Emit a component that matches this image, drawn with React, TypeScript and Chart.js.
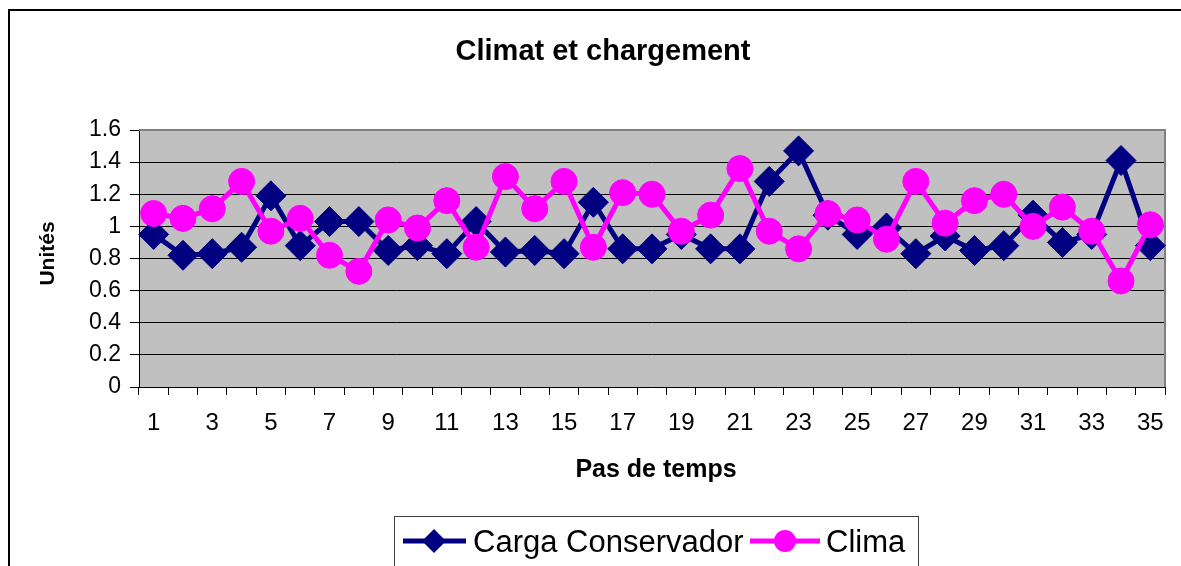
import React, { useEffect, useRef } from "react";
import { Chart, registerables } from "chart.js";

Chart.register(...registerables);

const timeSteps = [
  "1", "2", "3", "4", "5", "6", "7", "8", "9", "10",
  "11", "12", "13", "14", "15", "16", "17", "18", "19", "20",
  "21", "22", "23", "24", "25", "26", "27", "28", "29", "30",
  "31", "32", "33", "34", "35",
];

const cargaConservador = [
  0.95, 0.82, 0.83, 0.87, 1.19, 0.88, 1.03, 1.03, 0.85, 0.88,
  0.83, 1.03, 0.84, 0.85, 0.83, 1.15, 0.86, 0.86, 0.95, 0.86,
  0.86, 1.28, 1.47, 1.07, 0.95, 0.99, 0.83, 0.94, 0.85, 0.88,
  1.07, 0.9, 0.95, 1.41, 0.88,
];

const clima = [
  1.08, 1.05, 1.11, 1.28, 0.97, 1.05, 0.82, 0.72, 1.04, 0.99,
  1.16, 0.87, 1.31, 1.11, 1.28, 0.87, 1.21, 1.2, 0.97, 1.07,
  1.36, 0.97, 0.86, 1.08, 1.04, 0.92, 1.28, 1.02, 1.16, 1.2,
  1.0, 1.12, 0.97, 0.66, 1.01,
];

const seriesNames = ["Carga Conservador", "Clima"];
const chartTitle = "Climat et chargement";
const xTitle = "Pas de temps";
const yTitle = "Unités";

const W = 1173;
const H = 558;
const FONT = "'Liberation Sans', Arial, sans-serif";
const NAVY = "#000080";
const MAGENTA = "#FF00FF";

const decor = {
  id: "decor",
  beforeDraw(chart: any) {
    const { ctx, chartArea: a } = chart;
    ctx.save();
    ctx.fillStyle = "#ffffff";
    ctx.fillRect(0, 0, W, H);
    ctx.fillStyle = "#C0C0C0";
    ctx.fillRect(a.left, a.top, a.right - a.left, a.bottom - a.top);
    ctx.strokeStyle = "#000000";
    ctx.lineWidth = 2;
    ctx.strokeRect(1, 2, W + 40, H + 40);
    ctx.restore();
  },
  beforeDatasetsDraw(chart: any) {
    const { ctx, chartArea: a } = chart;
    ctx.save();
    ctx.strokeStyle = "#808080";
    ctx.lineWidth = 2;
    ctx.beginPath();
    ctx.moveTo(a.left, a.top);
    ctx.lineTo(a.right, a.top);
    ctx.lineTo(a.right, a.bottom);
    ctx.stroke();
    ctx.restore();
  },
  afterDraw(chart: any) {
    const { ctx, chartArea: a } = chart;
    ctx.save();
    ctx.fillStyle = "#000";
    // title
    ctx.font = `bold 29px ${FONT}`;
    ctx.textAlign = "center";
    ctx.textBaseline = "alphabetic";
    ctx.fillText(chartTitle, 595, 52);
    // x title
    ctx.font = `bold 25px ${FONT}`;
    ctx.fillText(xTitle, (a.left + a.right) / 2 + 4, 469);
    // y title
    ctx.save();
    ctx.translate(40, (a.top + a.bottom) / 2 - 5);
    ctx.rotate(-Math.PI / 2);
    ctx.font = `bold 21px ${FONT}`;
    ctx.textBaseline = "middle";
    ctx.fillText(yTitle, 0, 0);
    ctx.restore();

    // legend
    ctx.strokeStyle = "#404040";
    ctx.lineWidth = 1;
    ctx.strokeRect(386.5, 508.5, 524, 120);
    const ly = 533;
    // series 1
    ctx.strokeStyle = NAVY;
    ctx.lineWidth = 5;
    ctx.beginPath();
    ctx.moveTo(395, ly);
    ctx.lineTo(458, ly);
    ctx.stroke();
    ctx.fillStyle = NAVY;
    ctx.beginPath();
    ctx.moveTo(426, ly - 12);
    ctx.lineTo(438, ly);
    ctx.lineTo(426, ly + 12);
    ctx.lineTo(414, ly);
    ctx.closePath();
    ctx.fill();
    // series 2
    ctx.strokeStyle = MAGENTA;
    ctx.beginPath();
    ctx.moveTo(742, ly);
    ctx.lineTo(812, ly);
    ctx.stroke();
    ctx.fillStyle = MAGENTA;
    ctx.beginPath();
    ctx.arc(777, ly, 11, 0, Math.PI * 2);
    ctx.fill();
    ctx.fillStyle = "#000";
    ctx.font = `31px ${FONT}`;
    ctx.textAlign = "left";
    ctx.textBaseline = "alphabetic";
    ctx.fillText(seriesNames[0], 465, 544);
    ctx.fillText(seriesNames[1], 818, 544);
    ctx.restore();
  },
};

export default function App() {
  const ref = useRef<HTMLCanvasElement | null>(null);

  useEffect(() => {
    if (!ref.current) return;
    const chart = new Chart(ref.current, {
      type: "line",
      data: {
        labels: timeSteps,
        datasets: [
          {
            label: seriesNames[0],
            data: cargaConservador,
            borderColor: NAVY,
            backgroundColor: NAVY,
            borderWidth: 5,
            pointStyle: "rectRot",
            pointRadius: 15,
            pointBorderWidth: 1,
            pointBorderColor: NAVY,
            pointBackgroundColor: NAVY,
            tension: 0,
            order: 1,
          },
          {
            label: seriesNames[1],
            data: clima,
            borderColor: MAGENTA,
            backgroundColor: MAGENTA,
            borderWidth: 5,
            pointStyle: "circle",
            pointRadius: 13,
            pointBorderWidth: 1,
            pointBorderColor: MAGENTA,
            pointBackgroundColor: MAGENTA,
            tension: 0,
            order: 0,
          },
        ],
      },
      options: {
        responsive: false,
        animation: false,
        events: [],
        layout: { padding: { left: 0, top: 122, right: 7, bottom: 0 } },
        plugins: {
          legend: { display: false },
          title: { display: false },
          tooltip: { enabled: false },
        },
        scales: {
          x: {
            type: "category",
            offset: true,
            afterFit: (s: any) => {
              s.height = 179;
            },
            grid: {
              offset: true,
              drawOnChartArea: false,
              drawTicks: true,
              tickLength: 8,
              tickColor: "#000",
              tickWidth: 1,
            },
            border: { display: true, color: "#000", width: 1 },
            ticks: {
              autoSkip: false,
              maxRotation: 0,
              minRotation: 0,
              padding: 14,
              color: "#000",
              font: { family: FONT, size: 24 },
              callback: (_v: any, i: number) => (i % 2 === 0 ? timeSteps[i] : ""),
            },
          },
          y: {
            min: 0,
            max: 1.6,
            afterFit: (s: any) => {
              s.width = 131;
            },
            grid: {
              color: (c: any) => (c.tick && Math.abs(c.tick.value - 1.6) < 1e-6 ? "#808080" : "#000"),
              lineWidth: 1,
              drawTicks: true,
              tickLength: 9,
              tickColor: "#000",
            },
            border: { display: true, color: "#000", width: 1 },
            ticks: {
              stepSize: 0.2,
              padding: 9,
              color: "#000",
              font: { family: FONT, size: 23 },
              callback: (v: any) => String(Math.round(Number(v) * 10) / 10),
            },
          },
        },
      },
      plugins: [decor],
    });
    return () => chart.destroy();
  }, []);

  return (
    <div style={{ position: "fixed", left: 8, top: 8, width: W, height: H, overflow: "hidden" }}>
      <canvas ref={ref} width={W} height={H} style={{ display: "block", width: W, height: H }} />
    </div>
  );
}
